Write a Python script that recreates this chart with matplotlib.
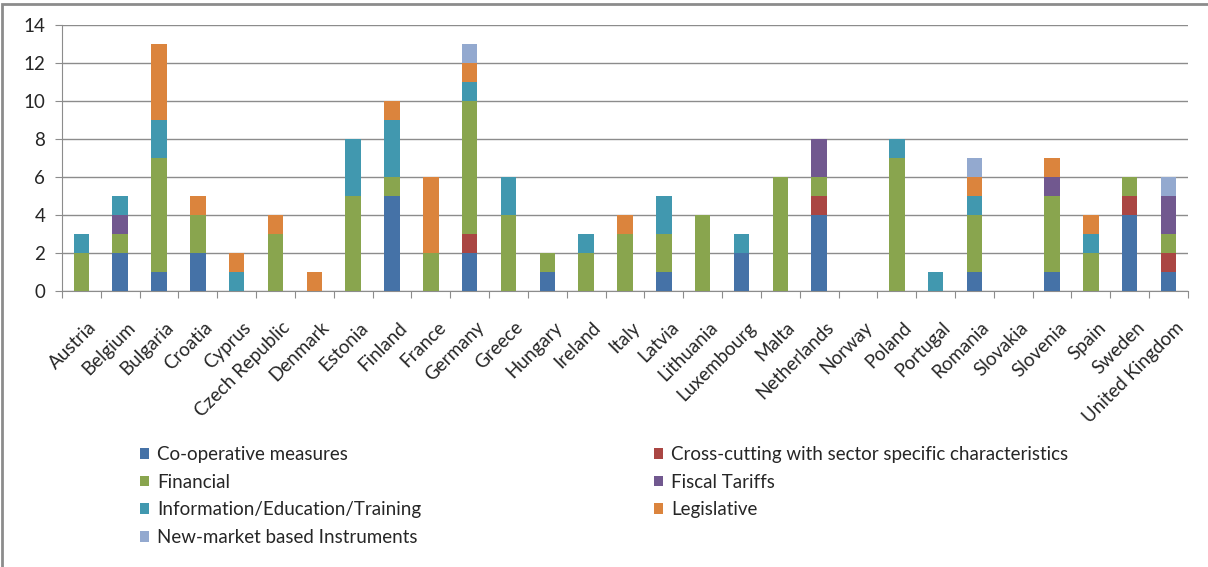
import matplotlib
matplotlib.use("Agg")
import matplotlib.pyplot as plt
from matplotlib.patches import Patch, Rectangle
from matplotlib.transforms import ScaledTranslation
import numpy as np

countries = ["Austria", "Belgium", "Bulgaria", "Croatia", "Cyprus", "Czech Republic",
             "Denmark", "Estonia", "Finland", "France", "Germany", "Greece", "Hungary",
             "Ireland", "Italy", "Latvia", "Lithuania", "Luxembourg", "Malta",
             "Netherlands", "Norway", "Poland", "Portugal", "Romania", "Slovakia",
             "Slovenia", "Spain", "Sweden", "United Kingdom"]

cooperative   = [0, 2, 1, 2, 0, 0, 0, 0, 5, 0, 2, 0, 1, 0, 0, 1, 0, 2, 0, 4, 0, 0, 0, 1, 0, 1, 0, 4, 1]
cross_cutting = [0, 0, 0, 0, 0, 0, 0, 0, 0, 0, 1, 0, 0, 0, 0, 0, 0, 0, 0, 1, 0, 0, 0, 0, 0, 0, 0, 1, 1]
financial     = [2, 1, 6, 2, 0, 3, 0, 5, 1, 2, 7, 4, 1, 2, 3, 2, 4, 0, 6, 1, 0, 7, 0, 3, 0, 4, 2, 1, 1]
fiscal        = [0, 1, 0, 0, 0, 0, 0, 0, 0, 0, 0, 0, 0, 0, 0, 0, 0, 0, 0, 2, 0, 0, 0, 0, 0, 1, 0, 0, 2]
information   = [1, 1, 2, 0, 1, 0, 0, 3, 3, 0, 1, 2, 0, 1, 0, 2, 0, 1, 0, 0, 0, 1, 1, 1, 0, 0, 1, 0, 0]
legislative   = [0, 0, 4, 1, 1, 1, 1, 0, 1, 4, 1, 0, 0, 0, 1, 0, 0, 0, 0, 0, 0, 0, 0, 1, 0, 1, 1, 0, 0]
new_market    = [0, 0, 0, 0, 0, 0, 0, 0, 0, 0, 1, 0, 0, 0, 0, 0, 0, 0, 0, 0, 0, 0, 0, 1, 0, 0, 0, 0, 1]

series_names = ["Co-operative measures", "Cross-cutting with sector specific characteristics",
                "Financial", "Fiscal Tariffs", "Information/Education/Training",
                "Legislative", "New-market based Instruments"]
series = [cooperative, cross_cutting, financial, fiscal, information, legislative, new_market]
colors = ["#4572A7", "#AA4643", "#89A54E", "#71588F", "#4198AF", "#DB843D", "#93A9CF"]

plt.rcParams['font.family'] = ['Lato', 'DejaVu Sans']

fig = plt.figure(figsize=(12.08, 5.67), dpi=100)
ax = fig.add_axes([0.0513, 0.4868, 0.9321, 0.4691])

x = np.arange(len(countries))
bottom = np.zeros(len(countries))
for vals, col in zip(series, colors):
    v = np.array(vals, dtype=float)
    ax.bar(x, v, bottom=bottom, width=0.4, color=col, edgecolor="none", zorder=3)
    bottom += v

ax.set_xlim(-0.5, len(countries) - 0.5)
ax.set_ylim(0, 14)
ax.set_yticks(range(0, 15, 2))
ax.yaxis.grid(True, color="#8C8C8C", linewidth=1.0, zorder=0)
ax.set_axisbelow(True)

for s in ["top", "right"]:
    ax.spines[s].set_visible(False)
ax.spines["left"].set_color("#8C8C8C")
ax.spines["bottom"].set_color("#8C8C8C")

ax.set_xticks(np.arange(-0.5, len(countries), 1.0), minor=False)
ax.set_xticklabels([])
ax.tick_params(axis="x", which="major", length=5, color="#8C8C8C", direction="out")
ax.set_xticks(x, minor=True)
ax.set_xticklabels(countries, minor=True, rotation=45, ha="right", rotation_mode="anchor",
                   fontsize=13.5, color="#262626")
ax.tick_params(axis="x", which="minor", length=0, pad=20)
for lbl in ax.get_xticklabels(minor=True):
    lbl.set_transform(lbl.get_transform() + ScaledTranslation(6 / 100, 0, fig.dpi_scale_trans))
ax.tick_params(axis="y", length=5, color="#8C8C8C", labelsize=13.5, labelcolor="#262626", pad=7)

handles = [Patch(facecolor=c, edgecolor="none") for c in colors]
left_idx = [0, 2, 4, 6]
right_idx = [1, 3, 5]
kw = dict(frameon=False, fontsize=13.5, handlelength=0.5, handleheight=0.5,
          handletextpad=0.4, labelspacing=0.57, borderpad=0, borderaxespad=0,
          labelcolor="#262626")
leg1 = fig.legend([handles[i] for i in left_idx], [series_names[i] for i in left_idx],
                  loc="upper left", bbox_to_anchor=(140 / 1208, 1 - 446 / 567), **kw)
leg2 = fig.legend([handles[i] for i in right_idx], [series_names[i] for i in right_idx],
                  loc="upper left", bbox_to_anchor=(654 / 1208, 1 - 446 / 567), **kw)

fig.patches.append(Rectangle((2 / 1208, -0.01), 1.2, 1 - 4 / 567 + 0.01, transform=fig.transFigure,
                             fill=False, edgecolor="#8C8C8C", linewidth=2))

fig.savefig("out.png", dpi=100)
